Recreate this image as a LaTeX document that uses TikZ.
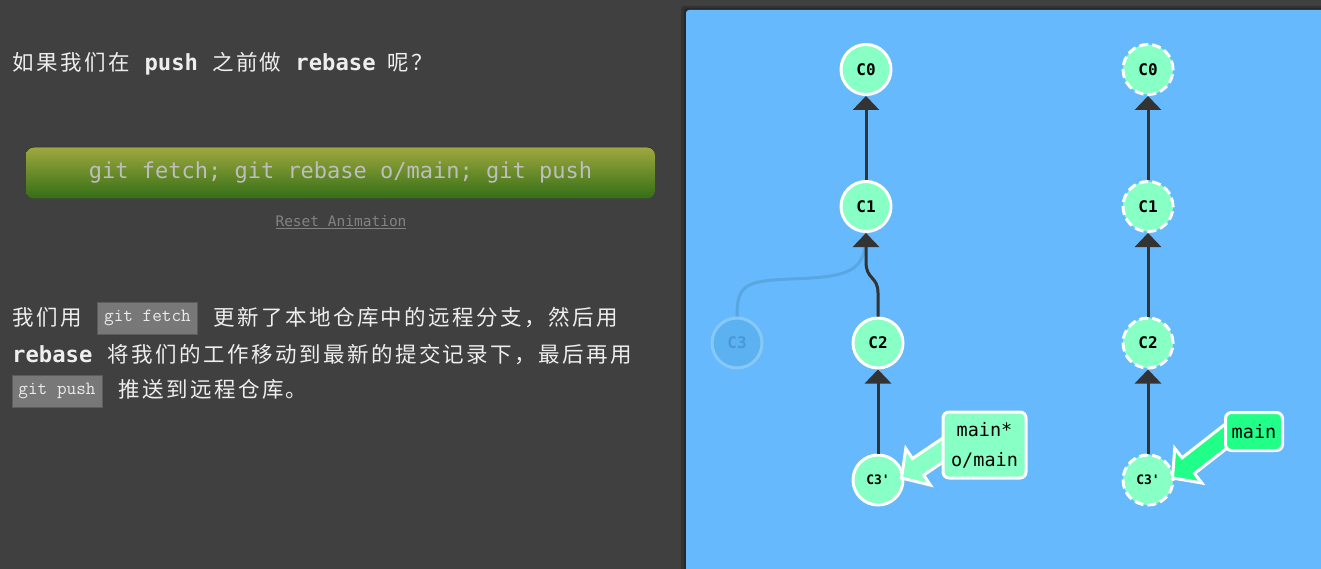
\documentclass[tikz,border=0pt]{standalone}
\usepackage{fontspec}
\newfontfamily\monofont{DejaVu Sans Mono}
\newfontfamily\cjk[LetterSpace=11.5]{Noto Sans CJK SC}
\usetikzlibrary{arrows.meta}

\definecolor{pagebg}{RGB}{64,64,64}
\definecolor{panelblue}{RGB}{102,185,252}
\definecolor{mint}{RGB}{136,255,196}
\definecolor{brightgreen}{RGB}{34,255,136}
\definecolor{edgegray}{RGB}{51,51,51}
\definecolor{ghostfill}{RGB}{92,178,240}
\definecolor{ghostline}{RGB}{135,200,250}
\definecolor{ghosttext}{RGB}{72,152,214}
\definecolor{ghostcurve}{RGB}{88,166,226}
\definecolor{textlight}{RGB}{238,238,238}
\definecolor{btntop}{RGB}{158,168,62}
\definecolor{btnbottom}{RGB}{52,110,22}
\definecolor{btntext}{RGB}{190,190,190}
\definecolor{codebg}{RGB}{120,120,120}
\definecolor{codeline}{RGB}{92,92,92}
\definecolor{codetext}{RGB}{235,235,235}
\definecolor{linkgray}{RGB}{130,130,130}

\begin{document}
\begin{tikzpicture}[x=1pt, y=-1pt,
    commit/.style={circle, draw=white, line width=3pt, fill=mint, minimum size=50pt, inner sep=0pt, font=\monofont\bfseries\fontsize{16}{16}\selectfont},
    newcommit/.style={commit, font=\monofont\bfseries\fontsize{13}{13}\selectfont},
    dashring/.style={dash pattern=on 9pt off 4pt},
    ghost/.style={commit, draw=ghostline, fill=ghostfill, text=ghosttext},
    parent/.style={draw=edgegray, line width=3pt, -{Triangle[length=14pt,width=26pt]}},
    ghostlink/.style={draw=ghostcurve, line width=3pt},
    branch/.style={rectangle, rounded corners=6pt, draw=white, line width=3pt, fill=mint, align=center, inner sep=0pt, font=\monofont\fontsize{18.5}{30}\selectfont},
    pointer/.style={draw=white, line width=3pt, line join=miter},
    txt/.style={anchor=base west, inner sep=0pt, text=textlight, font=\fontsize{21.5}{26}\selectfont},
    code/.style={rectangle, draw=codeline, fill=codebg, text=codetext, inner sep=0pt, font=\ttfamily\fontsize{18.7}{18}\selectfont},
    button/.style={rectangle, rounded corners=8pt, top color=btntop, bottom color=btnbottom, minimum width=629pt, minimum height=51pt, text=btntext, font=\monofont\fontsize{22}{22}\selectfont}
]
    \useasboundingbox (0,0) rectangle (1321,569);
    \fill[pagebg] (0,0) rectangle (1321,569);

    % left column: text and button
    \node[txt] (ask) at (12,70.5) {\cjk 如果我们在\hspace{15pt}{\monofont\bfseries\fontsize{22.2}{26}\selectfont push}\hspace{14pt}之前做\hspace{14pt}{\monofont\bfseries\fontsize{22.2}{26}\selectfont rebase}\hspace{12pt}呢？};

    \fill[black, opacity=.4, rounded corners=8pt] (26,147) rectangle (655,198);
    \node[button] (cmd) at (340.5,173) {git fetch; git rebase o/main; git push};
    \node[font=\monofont\fontsize{14.5}{14.5}\selectfont, text=linkgray] (reset) at (341,222) {\underline{Reset Animation}};

    \node[txt] (say1) at (12,325) {\cjk 我们用};
    \node[code, minimum width=100pt, minimum height=32pt] (fetch) at (147.5,318) {git fetch};
    \node[txt] (say2) at (213,325) {\cjk 更新了本地仓库中的远程分支，然后用};
    \node[txt] (say3) at (12,362) {{\monofont\bfseries\fontsize{22.2}{26}\selectfont rebase}\hspace{15pt}{\cjk 将我们的工作移动到最新的提交记录下，最后再用}};
    \node[code, minimum width=90pt, minimum height=32pt] (pushcode) at (57,391) {git push};
    \node[txt] (say4) at (118,397) {\cjk 推送到远程仓库。};

    % right panel
    \fill[black, opacity=.2, rounded corners=3pt] (681,6) rectangle (1330,580);
    \fill[black, opacity=.2, rounded corners=3pt] (684,8) rectangle (1330,580);
    \fill[panelblue, rounded corners=3pt] (686,10) rectangle (1330,580);

    % local repository
    \node[ghost] (c3) at (737,343) {C3};
    \node[commit] (c0) at (866,69.5) {C0};
    \node[commit] (c1) at (866,206.5) {C1};
    \node[commit] (c2) at (878,343) {C2};
    \node[newcommit] (c3b) at (878,480) {C3'};

    \draw[ghostlink] (c3.north) .. controls (737,285) and (745,281) .. (790,279) .. controls (850,277) and (866,272) .. (c1.south);
    \draw[parent] (c1) -- (c0);
    \draw[parent] (c2.north) -- (878,293) .. controls (878,276) and (866,280) .. (866,262) -- (c1.south);
    \draw[parent] (c3b) -- (c2);

    \begin{scope}[shift={([xshift=-3pt,yshift=2pt]c3b.east)}, rotate=34]
        \filldraw[pointer, fill=mint] (0,0) -- (20,22) -- (20,10) -- (80,10) -- (80,-10) -- (20,-10) -- (20,-22) -- cycle;
    \end{scope}
    \node[branch, minimum width=83pt, minimum height=66pt] (mainloc) at (984.5,445) {main*\\o/main};

    % remote repository
    \node[commit, dashring] (r0) at (1148,69.5) {C0};
    \node[commit, dashring] (r1) at (1148,206.5) {C1};
    \node[commit, dashring] (r2) at (1148,343) {C2};
    \node[newcommit, dashring] (r3) at (1148,480) {C3'};

    \draw[parent] (r1) -- (r0);
    \draw[parent] (r2) -- (r1);
    \draw[parent] (r3) -- (r2);

    \begin{scope}[shift={([xshift=-2pt,yshift=2pt]r3.east)}, rotate=38]
        \filldraw[pointer, fill=brightgreen] (0,0) -- (20,22) -- (20,10) -- (85,10) -- (85,-10) -- (20,-10) -- (20,-22) -- cycle;
    \end{scope}
    \node[branch, fill=brightgreen, minimum width=57pt, minimum height=38pt] (mainrem) at (1254,431.5) {main};
\end{tikzpicture}
\end{document}
